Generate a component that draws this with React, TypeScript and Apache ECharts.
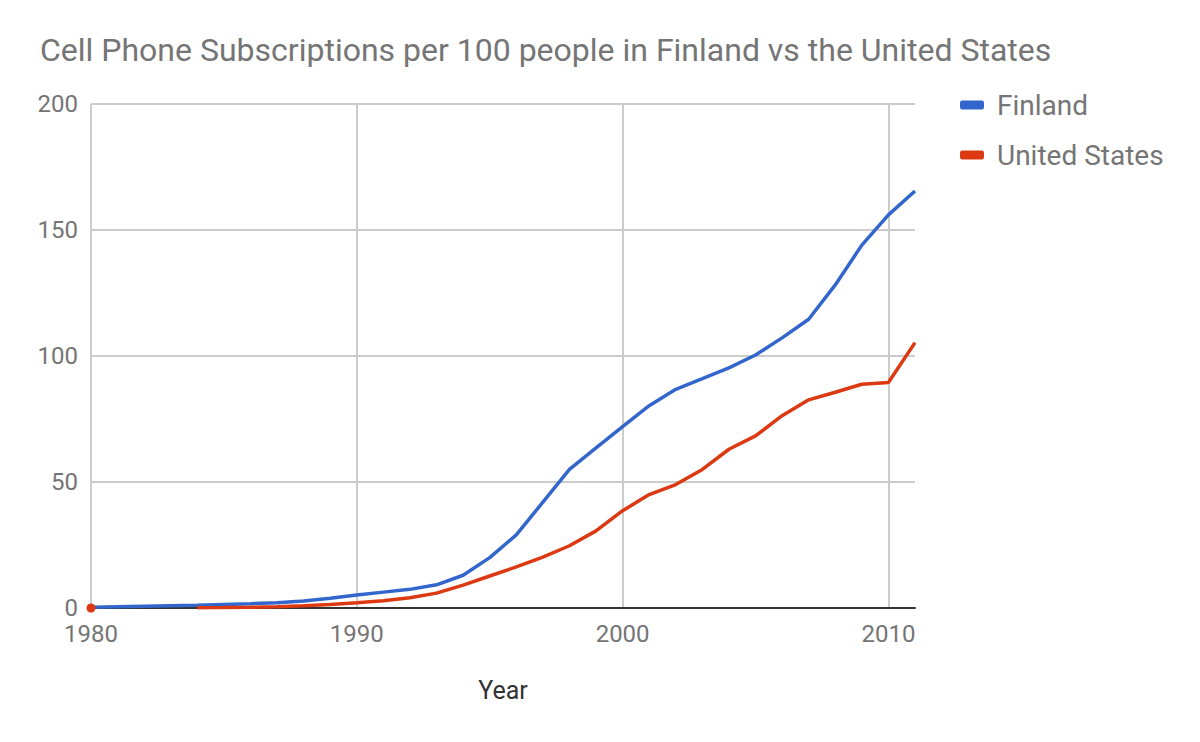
import React, { useEffect, useRef } from "react";
import * as echarts from "echarts";

const years = [
  1980, 1981, 1982, 1983, 1984, 1985, 1986, 1987, 1988, 1989, 1990, 1991, 1992, 1993, 1994, 1995,
  1996, 1997, 1998, 1999, 2000, 2001, 2002, 2003, 2004, 2005, 2006, 2007, 2008, 2009, 2010, 2011,
];

const finland = [
  0.3, 0.5, 0.7, 0.9, 1.1, 1.4, 1.7, 2.1, 2.8, 3.9, 5.2, 6.3, 7.4, 9.2, 13, 20,
  29, 42, 55, 63.5, 72, 80.3, 86.8, 91, 95.3, 100.4, 107.2, 114.6, 128.2, 144, 156, 165.5,
];

const unitedStates: (number | null)[] = [
  0, null, null, null, 0.05, 0.15, 0.3, 0.5, 0.85, 1.4, 2.1, 2.9, 4.1, 5.9, 9.1, 12.7,
  16.3, 20.2, 24.7, 30.6, 38.6, 45, 49, 55, 63, 68.3, 76.3, 82.6, 85.6, 88.8, 89.5, 105.3,
];

const seriesNames = ["Finland", "United States"];
const titleText = "Cell Phone Subscriptions per 100 people in Finland vs the United States";
const xAxisName = "Year";

const FONT = "Roboto, 'Noto Sans', Arial, sans-serif";

export default function App() {
  const ref = useRef<HTMLDivElement>(null);

  useEffect(() => {
    if (!ref.current) return;
    const chart = echarts.init(ref.current, undefined, { renderer: "svg" });

    const finData = years.map((y, i) => [y, finland[i]]);
    const usData = years.map((y, i) => {
      const v = unitedStates[i];
      const prev = i > 0 ? unitedStates[i - 1] : null;
      const next = i < years.length - 1 ? unitedStates[i + 1] : null;
      // an isolated value has no segment, so it is drawn as a dot
      if (v !== null && prev === null && next === null) {
        return { value: [y, v], symbol: "circle", symbolSize: 9 };
      }
      return [y, v];
    });

    chart.setOption({
      animation: false,
      textStyle: { fontFamily: FONT },
      title: {
        text: titleText,
        left: 35,
        top: 29,
        textStyle: { fontFamily: FONT, fontSize: 32, fontWeight: "normal", color: "#757575" },
      },
      legend: {
        orient: "vertical",
        left: 955,
        top: 86,
        itemWidth: 24,
        itemHeight: 9,
        itemGap: 22,
        icon: "roundRect",
        textStyle: { fontFamily: FONT, fontSize: 28, color: "#757575", padding: [0, 0, 0, 8] },
        data: seriesNames,
      },
      grid: { left: 91, right: 285, top: 104, bottom: 134 },
      xAxis: {
        type: "value",
        min: 1980,
        max: 2011,
        interval: 10,
        name: xAxisName,
        nameLocation: "middle",
        nameGap: 70,
        nameTextStyle: { fontFamily: FONT, fontSize: 25, color: "#333333" },
        axisLine: { show: true, onZero: false, lineStyle: { color: "#333333", width: 2 } },
        axisTick: { show: false },
        axisLabel: {
          showMaxLabel: false,
          formatter: (v: number) => String(v),
          fontFamily: FONT,
          fontSize: 24,
          lineHeight: 20,
          color: "#757575",
          margin: 16,
        },
        splitLine: { show: true, showMaxLine: false, lineStyle: { color: "#cccccc", width: 2 } },
      },
      yAxis: {
        type: "value",
        min: 0,
        max: 200,
        interval: 50,
        axisLine: { show: false },
        axisTick: { show: false },
        axisLabel: { fontFamily: FONT, fontSize: 24, lineHeight: 20, color: "#757575", margin: 13 },
        splitLine: { show: true, lineStyle: { color: "#cccccc", width: 2 } },
      },
      series: [
        {
          name: seriesNames[0],
          type: "line",
          data: finData,
          showSymbol: false,
          lineStyle: { color: "#3366cc", width: 3.5 },
          itemStyle: { color: "#3366cc" },
          z: 3,
        },
        {
          name: seriesNames[1],
          type: "line",
          data: usData,
          symbol: "none",
          connectNulls: false,
          lineStyle: { color: "#dc3912", width: 3.5 },
          itemStyle: { color: "#dc3912" },
          z: 4,
        },
      ],
    });

    return () => chart.dispose();
  }, []);

  return <div ref={ref} style={{ width: 1200, height: 742, position: "absolute", left: 0, top: 0 }} />;
}
